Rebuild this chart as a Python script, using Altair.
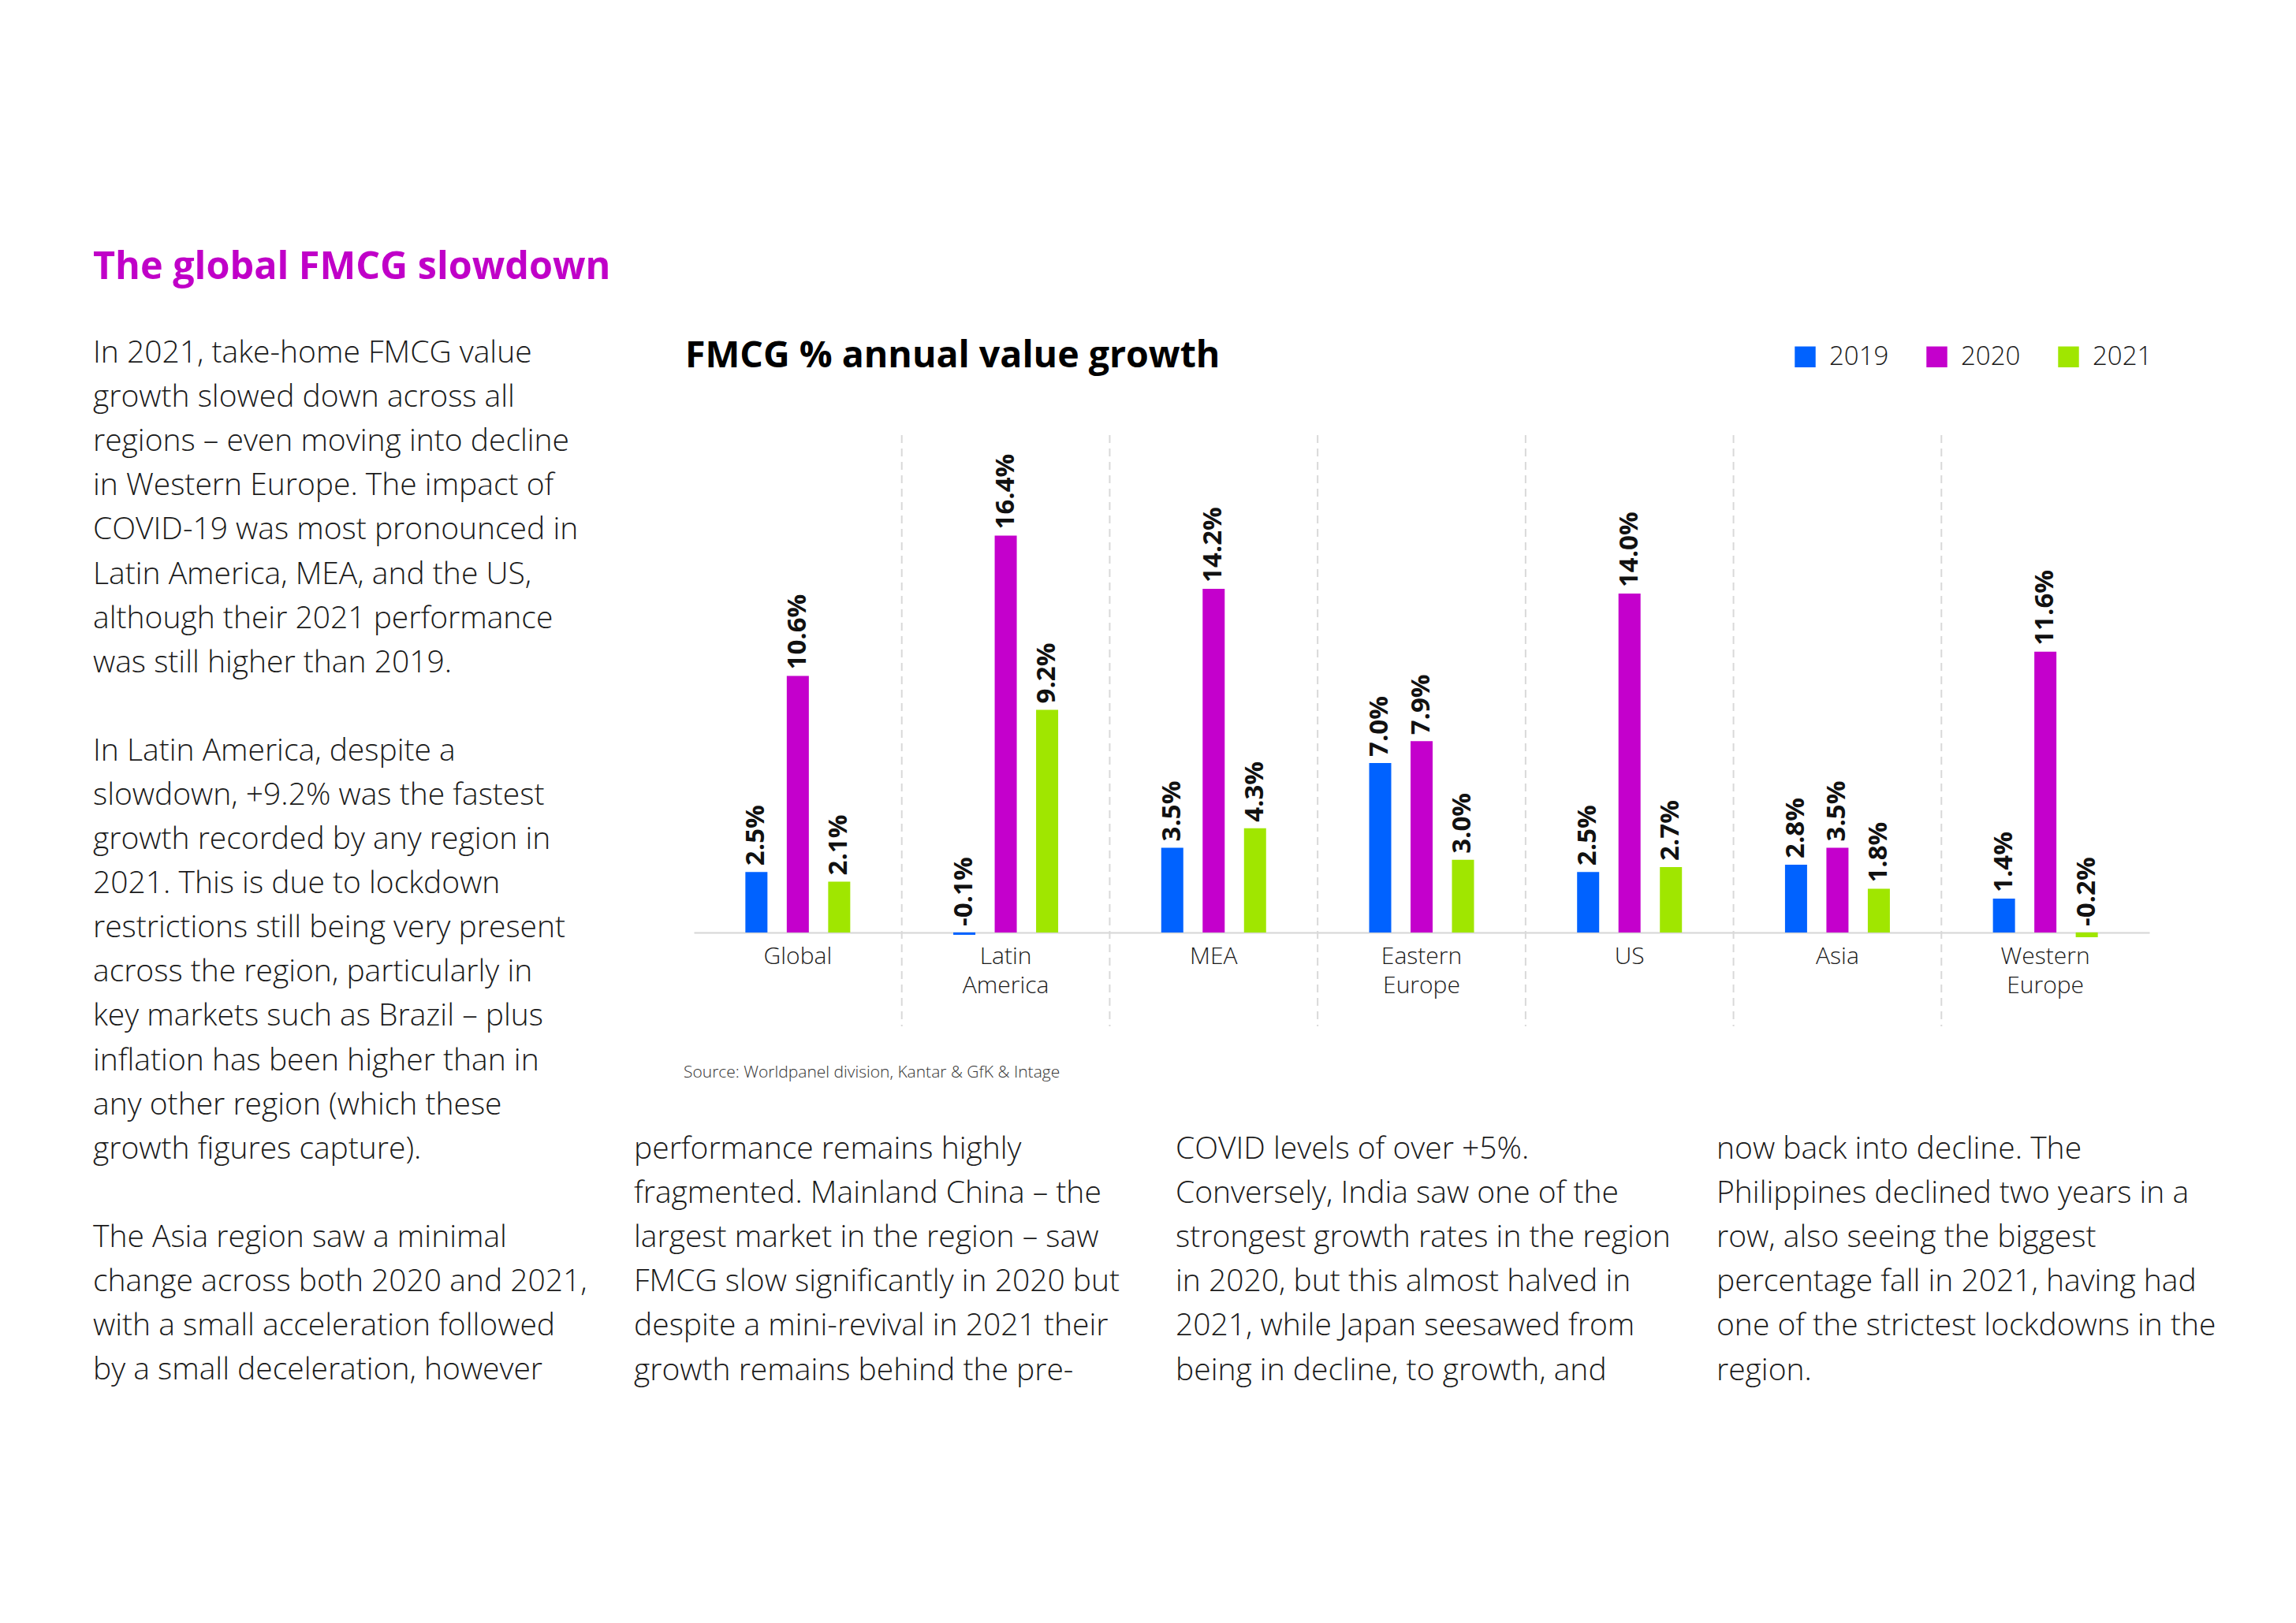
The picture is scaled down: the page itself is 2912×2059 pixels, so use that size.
import altair as alt
import pandas as pd

# ---------------- data ----------------
regions = ["Global", "Latin America", "MEA", "Eastern Europe", "US", "Asia", "Western Europe"]
years = ["2019", "2020", "2021"]
growth_2019 = [2.5, -0.1, 3.5, 7.0, 2.5, 2.8, 1.4]
growth_2020 = [10.6, 16.4, 14.2, 7.9, 14.0, 3.5, 11.6]
growth_2021 = [2.1, 9.2, 4.3, 3.0, 2.7, 1.8, -0.2]
year_colors = ["#0062ff", "#c400cc", "#a0e600"]

heading = "The global FMCG slowdown"
chart_title = "FMCG % annual value growth"
source_note = "Source: Worldpanel division, Kantar & GfK & Intage"

para_1 = [
    "In 2021, take-home FMCG value",
    "growth slowed down across all",
    "regions – even moving into decline",
    "in Western Europe. The impact of",
    "COVID-19 was most pronounced in",
    "Latin America, MEA, and the US,",
    "although their 2021 performance",
    "was still higher than 2019.",
]
para_2 = [
    "In Latin America, despite a",
    "slowdown, +9.2% was the fastest",
    "growth recorded by any region in",
    "2021. This is due to lockdown",
    "restrictions still being very present",
    "across the region, particularly in",
    "key markets such as Brazil – plus",
    "inflation has been higher than in",
    "any other region (which these",
    "growth figures capture).",
]
para_3 = [
    "The Asia region saw a minimal",
    "change across both 2020 and 2021,",
    "with a small acceleration followed",
    "by a small deceleration, however",
]
column_2 = [
    "performance remains highly",
    "fragmented. Mainland China – the",
    "largest market in the region – saw",
    "FMCG slow significantly in 2020 but",
    "despite a mini-revival in 2021 their",
    "growth remains behind the pre-",
]
column_3 = [
    "COVID levels of over +5%.",
    "Conversely, India saw one of the",
    "strongest growth rates in the region",
    "in 2020, but this almost halved in",
    "2021, while Japan seesawed from",
    "being in decline, to growth, and",
]
column_4 = [
    "now back into decline. The",
    "Philippines declined two years in a",
    "row, also seeing the biggest",
    "percentage fall in 2021, having had",
    "one of the strictest lockdowns in the",
    "region.",
]

rows = []
for yr, series in zip(years, [growth_2019, growth_2020, growth_2021]):
    for reg, v in zip(regions, series):
        rows.append({"region": reg, "year": yr, "value": v, "label": f"{v:.1f}%"})
df = pd.DataFrame(rows)
sep_df = pd.DataFrame({"region": regions[1:]})
one = pd.DataFrame({"k": [0]})

# ---------------- layout ----------------
W, H = 1846, 750
Y_DOMAIN = [-3.88, 20.55]
BODY_FONT = "Open Sans"
TXT = "#1a1a1a"
LH = 56.1

xscale = alt.Scale(domain=regions, paddingInner=0, paddingOuter=0)
yscale = alt.Scale(domain=Y_DOMAIN, nice=False, zero=False)
offscale = alt.Scale(domain=years, range=[65.35, 198.35], paddingInner=0.4667, paddingOuter=0)

x_axis = alt.Axis(
    title=None, orient="bottom", offset=-119, domain=True,
    domainColor="#d6d6d6", domainWidth=2, ticks=False, grid=False,
    labelExpr="split(datum.label, ' ')", labelFont=BODY_FONT,
    labelFontSize=30, labelFontWeight=300, labelColor=TXT,
    labelPadding=15, labelLineHeight=37, labelBaseline="top",
    labelAngle=0, labelAlign="center",
)


def xenc(**kw):
    return alt.X("region:N", scale=xscale, sort=regions, axis=x_axis, **kw)


bars = alt.Chart(df).mark_bar().encode(
    x=xenc(),
    xOffset=alt.XOffset("year:N", scale=offscale),
    y=alt.Y("value:Q", scale=yscale, axis=None),
    y2=alt.datum(0),
    color=alt.Color(
        "year:N",
        scale=alt.Scale(domain=years, range=year_colors),
        legend=alt.Legend(
            orient="none", legendX=1393, legendY=-116, direction="horizontal",
            title=None, symbolType="square", symbolSize=700, symbolStrokeWidth=0,
            labelFont=BODY_FONT, labelFontSize=33, labelFontWeight=300,
            labelColor=TXT, labelOffset=14, columnPadding=44, padding=0,
        ),
    ),
)

separators = alt.Chart(sep_df).mark_rule(
    color="#d9d9d9", strokeWidth=2, strokeDash=[10, 7]
).encode(
    x=xenc(bandPosition=0),
    y=alt.value(0),
    y2=alt.value(H),
)

value_labels = alt.Chart(df).transform_calculate(
    labelY="max(datum.value, 0)"
).mark_text(
    angle=270, align="left", baseline="middle", dx=8,
    font=BODY_FONT, fontWeight="bold", fontSize=33, color="#111111",
).encode(
    x=xenc(),
    xOffset=alt.XOffset("year:N", scale=offscale),
    y=alt.Y("labelY:Q", scale=yscale, axis=None),
    text="label:N",
)


def text_block(lines, x, y, size, weight=300, color=TXT, baseline="top", lh=LH):
    return alt.Chart(one).mark_text(
        text=lines, align="left", baseline=baseline, font=BODY_FONT,
        fontSize=size, fontWeight=weight, color=color, lineHeight=lh,
    ).encode(x=alt.value(x), y=alt.value(y))


BODY = 39
Y1 = -123
title_heading = text_block(heading, -762, -213, 48.5, weight="bold", color="#c000c8", baseline="middle")
title_chart = text_block(chart_title, -11, -86, 46.5, weight="bold", color="#000000", baseline="alphabetic")
note = text_block(source_note, -13, 815, 21, weight=300, color="#333333", baseline="alphabetic")
body1a = text_block(para_1, -762, Y1, BODY)
body1b = text_block(para_2, -762, Y1 + 9 * LH, BODY)
body1c = text_block(para_3, -762, Y1 + 20 * LH, BODY)
body2 = text_block(column_2, -76, 887, BODY)
body3 = text_block(column_3, 611, 887, BODY)
body4 = text_block(column_4, 1297, 887, BODY)

chart = alt.layer(
    bars, separators, value_labels,
    title_heading, title_chart, note, body1a, body1b, body1c, body2, body3, body4,
).properties(
    width=W, height=H,
    padding={"left": 872, "top": 544, "right": 178, "bottom": 749},
    autosize=alt.AutoSizeParams(type="none"),
    background="white",
).configure_view(stroke=None)

chart.save("out.html", embed_options={"renderer": "svg", "actions": False})
